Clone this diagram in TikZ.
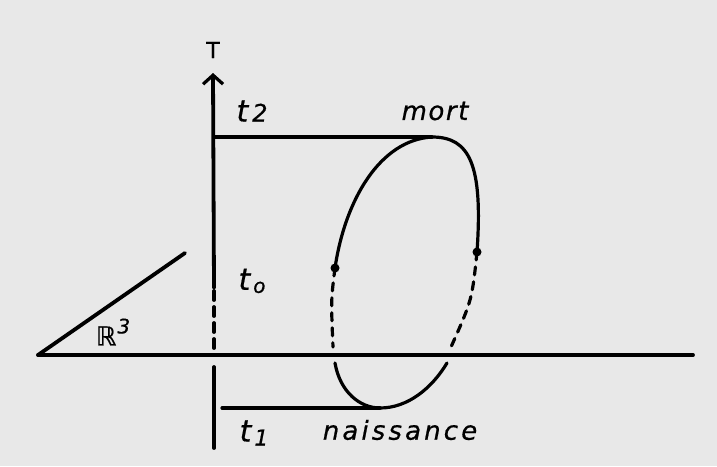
\documentclass[tikz,border=0pt]{standalone}
\usepackage{fontspec}
\setsansfont{DejaVu Sans}
\usetikzlibrary{arrows.meta}

\begin{document}
\begin{tikzpicture}[x=1pt, y=-1pt, line cap=round,
    axisline/.style={line width=3.8pt},
    loopline/.style={line width=3.2pt},
    dashline/.style={line width=3.2pt, dash pattern=on 8pt off 7pt},
    lbl/.style={font=\fontsize{26}{30}\selectfont\sffamily\itshape\addfontfeatures{FakeBold=0.6}, inner sep=0pt}]
  \useasboundingbox[fill=black!9] (0,0) rectangle (717,466);
  % points of the picture
  \coordinate (o)    at (38,355);
  \coordinate (xend) at (693,355);
  \coordinate (pl)   at (185,253);
  \coordinate (tbot) at (214,448);
  \coordinate (tlo)  at (214,367);
  \coordinate (tdsh) at (214,348);
  \coordinate (tmid) at (214,288);
  \coordinate (ttop) at (213,73);
  \coordinate (top)  at (432,137);
  \coordinate (bot)  at (380,408);
  \coordinate (dl)   at (335,268);
  \coordinate (dr)   at (477,252);
  \coordinate (cl)   at (333,347);
  \coordinate (cr)   at (451,347);
  \coordinate (bl)   at (335,363);
  \coordinate (br)   at (447,363);
  % space R^3 and time axis
  \draw[axisline] (o) -- (xend);
  \draw[axisline] (o) -- (pl);
  \draw[axisline] (tbot) -- (tlo);
  \draw[axisline, dash pattern=on 9pt off 7pt] (tdsh) -- (tmid);
  \draw[axisline, -{Straight Barb[length=9pt, width=20pt, line width=3.2pt]}] (tmid) -- (ttop);
  \draw[loopline] (tmid |- top) -- (top);
  \draw[loopline] (tmid |- bot) ++(8,0) -- (bot);
  % world line loop
  \draw[loopline] (dl) .. controls (345,200) and (380,140) .. (top)
    .. controls (470,137) and (483,165) .. (dr);
  \draw[dashline] (dl) .. controls (331,300) .. (cl);
  \draw[dashline] (dr) .. controls (472,300) .. (cr);
  \draw[loopline] (bl) .. controls (340,392) and (360,408) .. (bot)
    .. controls (408,408) and (432,388) .. (br);
  \fill (dl) circle (4.5pt);
  \fill (dr) circle (4.5pt);
  % labels
  \node[lbl, font=\fontsize{22}{26}\selectfont\sffamily\addfontfeatures{FakeBold=0.6}] (tT) at (213,50) {T};
  \node[lbl] (ttwo)  at (252,111) {{\fontsize{30}{30}\selectfont t}\kern4pt{\fontsize{24}{24}\selectfont 2}};
  \node[lbl] (tzero) at (252,281) {{\fontsize{30}{30}\selectfont t}\kern3pt\raisebox{-3pt}{\fontsize{20}{20}\selectfont o}};
  \node[lbl] (tone)  at (254,433) {{\fontsize{30}{30}\selectfont t}\kern3pt\raisebox{-4pt}{\fontsize{22}{22}\selectfont 1}};
  \node[lbl] (mort)  at (435,111) {\addfontfeatures{LetterSpace=6}mort};
  \node[lbl] (nais)  at (400,430) {\addfontfeatures{LetterSpace=12}naissance};
  \node[lbl] (space) at (113,332) {ℝ\kern1pt\raisebox{12pt}{\fontsize{20}{20}\selectfont 3}};
\end{tikzpicture}
\end{document}
